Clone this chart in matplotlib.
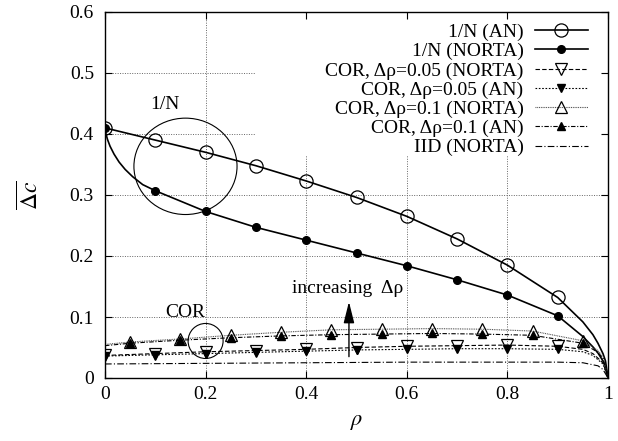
import matplotlib
matplotlib.use('Agg')
import matplotlib.pyplot as plt
from matplotlib.patches import Ellipse, Rectangle
import numpy as np

plt.rcParams['font.family'] = ['Liberation Serif', 'DejaVu Serif']
plt.rcParams['mathtext.fontset'] = 'stix'
plt.rcParams['font.size'] = 14

# marker positions
rho_mk = [0.0, 0.1, 0.2, 0.3, 0.4, 0.5, 0.6, 0.7, 0.8, 0.9]
rho_mk_half = [0.05, 0.15, 0.25, 0.35, 0.45, 0.55, 0.65, 0.75, 0.85, 0.95]

# 1/N (AN)
rho_an = [0.0, 0.1, 0.2, 0.3, 0.4, 0.5, 0.6, 0.7, 0.8, 0.9, 0.95, 0.97, 0.98, 0.99, 0.995, 1.0]
inv_an = [0.41, 0.39, 0.37, 0.348, 0.323, 0.296, 0.265, 0.228, 0.185, 0.132, 0.092, 0.071, 0.057, 0.040, 0.028, 0.0]

# 1/N (NORTA)
rho_norta = [0.0, 0.002, 0.005, 0.01, 0.018, 0.028, 0.04, 0.055, 0.075, 0.1, 0.2, 0.3, 0.4, 0.5, 0.6, 0.7,
             0.8, 0.9, 0.95, 0.97, 0.98, 0.99, 0.995, 1.0]
inv_norta = [0.41, 0.400, 0.391, 0.380, 0.367, 0.354, 0.342, 0.330, 0.317, 0.307, 0.273, 0.247, 0.226,
             0.205, 0.184, 0.161, 0.136, 0.102, 0.068, 0.051, 0.041, 0.028, 0.019, 0.0]

# COR, delta rho = 0.05
rho_cor05 = [0.0, 0.1, 0.2, 0.3, 0.4, 0.5, 0.6, 0.7, 0.8, 0.9, 0.95, 0.97, 0.99, 1.0]
cor05_norta = [0.037, 0.040, 0.043, 0.045, 0.047, 0.050, 0.052, 0.053, 0.054, 0.052, 0.047, 0.040, 0.025, 0.0]
cor05_an = [0.036, 0.038, 0.040, 0.042, 0.044, 0.046, 0.047, 0.048, 0.048, 0.047, 0.043, 0.037, 0.023, 0.0]

# COR, delta rho = 0.1
rho_cor10 = [0.0, 0.05, 0.15, 0.25, 0.35, 0.45, 0.55, 0.65, 0.75, 0.85, 0.95, 0.98, 0.99, 1.0]
cor10_norta = [0.055, 0.059, 0.064, 0.070, 0.075, 0.079, 0.080, 0.081, 0.080, 0.077, 0.061, 0.045, 0.035, 0.0]
cor10_an = [0.053, 0.057, 0.062, 0.066, 0.069, 0.071, 0.072, 0.073, 0.072, 0.070, 0.057, 0.042, 0.032, 0.0]

# IID (NORTA)
rho_iid = [0.0, 0.2, 0.4, 0.6, 0.8, 0.9, 0.95, 0.98, 0.99, 1.0]
iid_norta = [0.023, 0.024, 0.025, 0.026, 0.026, 0.026, 0.025, 0.020, 0.014, 0.0]

x_ticks = [0, 0.2, 0.4, 0.6, 0.8, 1.0]
x_labels = ['0', '0.2', '0.4', '0.6', '0.8', '1']
y_ticks = [0, 0.1, 0.2, 0.3, 0.4, 0.5, 0.6]
y_labels = ['0', '0.1', '0.2', '0.3', '0.4', '0.5', '0.6']


def marks(xs, at):
    return np.isclose(np.array(xs)[:, None], np.array(at)[None, :]).any(axis=1)


fig = plt.figure(figsize=(6.18, 4.41), dpi=100)
ax = fig.add_axes([105 / 618, 1 - 378 / 441, 503 / 618, 366 / 441])

# grid (hidden behind the key area)
ax.hlines(y_ticks[1:-1], 0, 1, colors='#666666', linestyles=(0, (1, 1.5)), lw=0.7, zorder=0.5)
ax.vlines(x_ticks[1:-1], 0, 0.6, colors='#666666', linestyles=(0, (1, 1.5)), lw=0.7, zorder=0.5)
ax.add_patch(Rectangle((0.298, 0.609), 0.702, 0.391, transform=ax.transAxes,
                       facecolor='white', edgecolor='none', zorder=1))

ax.plot(rho_an, inv_an, '-', color='black', lw=1.2, marker='o', ms=9.5, mfc='none', mew=0.9,
        markevery=list(marks(rho_an, rho_mk)), label='1/N (AN)', zorder=3)
ax.plot(rho_norta, inv_norta, '-', color='black', lw=1.2, marker='o', ms=5.5,
        markevery=list(marks(rho_norta, rho_mk)), label='1/N (NORTA)', zorder=3)
ax.plot(rho_cor05, cor05_norta, color='black', lw=0.8, ls=(0, (4, 2)), marker='v', ms=8.5, mfc='none',
        mew=0.9, markevery=list(marks(rho_cor05, rho_mk)), label='COR, Δρ=0.05 (NORTA)', zorder=3)
ax.plot(rho_cor05, cor05_an, color='black', lw=0.8, ls=(0, (1.5, 1.5)), marker='v', ms=6,
        markevery=list(marks(rho_cor05, rho_mk)), label='COR, Δρ=0.05 (AN)', zorder=3)
ax.plot(rho_cor10, cor10_norta, color='#444444', lw=0.8, ls=(0, (0.8, 0.8)), marker='^', ms=8.5,
        mfc='none', mec='black', mew=0.9, markevery=list(marks(rho_cor10, rho_mk_half)),
        label='COR, Δρ=0.1 (NORTA)', zorder=3)
ax.plot(rho_cor10, cor10_an, color='black', lw=0.8, ls=(0, (4, 1.5, 1, 1.5)), marker='^', ms=6,
        markevery=list(marks(rho_cor10, rho_mk_half)), label='COR, Δρ=0.1 (AN)', zorder=3)
ax.plot(rho_iid, iid_norta, color='black', lw=0.8, ls=(0, (6, 2, 1, 2)), label='IID (NORTA)', zorder=3)

# annotations
ax.add_patch(Ellipse((0.160, 0.347), 0.205, 0.158, fill=False, edgecolor='black', lw=0.8, zorder=4))
ax.text(0.119, 0.449, '1/N', ha='center', va='center')
ax.add_patch(Ellipse((0.200, 0.0607), 0.0696, 0.0574, fill=False, edgecolor='black', lw=0.8, zorder=4))
ax.text(0.159, 0.108, 'COR', ha='center', va='center')
ax.text(0.483, 0.1475, 'increasing  Δρ', ha='center', va='center')
ax.annotate('', xy=(0.485, 0.125), xytext=(0.485, 0.035),
            arrowprops=dict(arrowstyle='-|>,head_length=1.0,head_width=0.25', color='black',
                            lw=1, mutation_scale=13, shrinkA=0, shrinkB=0))

ax.set_xlim(0, 1)
ax.set_ylim(0, 0.6)
ax.set_xticks(x_ticks)
ax.set_xticklabels(x_labels)
ax.set_yticks(y_ticks)
ax.set_yticklabels(y_labels)
ax.tick_params(direction='in', top=True, right=True, length=5, width=0.8)
ax.tick_params(axis='y', pad=8)
ax.tick_params(axis='x', pad=6)
for sp in ax.spines.values():
    sp.set_linewidth(1.0)
    sp.set_zorder(5)

ax.set_xlabel(r'$\rho$', fontsize=16, labelpad=7)
ax.set_ylabel(r'$\overline{\Delta c}$', fontsize=17, labelpad=19)

ax.legend(loc='upper right', bbox_to_anchor=(0.975, 0.99), frameon=False, markerfirst=False,
          numpoints=1, handlelength=2.7, handletextpad=0.6, labelspacing=0.08, borderpad=0.4,
          borderaxespad=0.0)

fig.savefig('out.png', dpi=100)
